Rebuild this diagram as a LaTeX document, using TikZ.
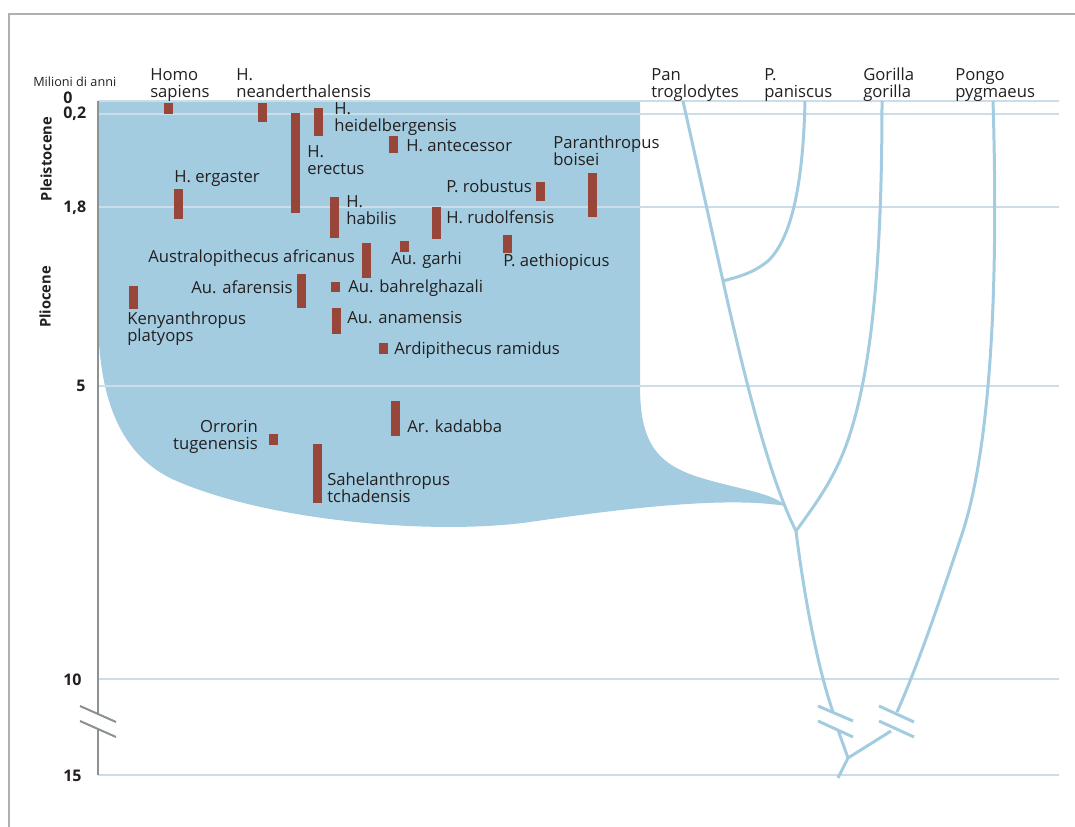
\documentclass[tikz,border=0pt]{standalone}
\usepackage{fontspec}
\setmainfont{Open Sans}
\definecolor{blu}{HTML}{A3CCE0}
\definecolor{brk}{HTML}{98463A}
\definecolor{grd}{HTML}{CADDE8}
\definecolor{frm}{HTML}{B0B0B0}
\definecolor{axc}{HTML}{8C9191}
\definecolor{txt}{HTML}{231F20}
\newcommand\twol[2]{\vtop{\halign{##\hfil\cr#1\cr#2\cr}}}
\newcommand\twor[2]{\vtop{\halign{\hfil##\cr#1\cr#2\cr}}}
\begin{document}
\begin{tikzpicture}[x=0.75pt,y=-0.75pt,
 lab/.style={inner sep=0pt, text=txt, font=\fontsize{12.5}{12.75}\selectfont, anchor=base west},
 labr/.style={lab, anchor=base east},
 num/.style={inner sep=0pt, text=txt, font=\fontsize{12}{13}\selectfont\bfseries, anchor=base west},
 era/.style={inner sep=0pt, text=txt, font=\fontsize{11}{13}\selectfont\bfseries, rotate=90},
 tree/.style={draw=blu, line width=2.25pt},
 gridl/.style={draw=grd, line width=1.5pt},
 sbar/.style={fill=brk},
 axisl/.style={draw=axc, line width=1.5pt},
]
\useasboundingbox (0,0) rectangle (1075,827);
% frame
\draw[frm, line width=1.5pt] (9,827) -- (9,14) -- (1075,14);
% blue hominin region
\fill[blu] (98,101) -- (640,101) -- (640,386)
  .. controls (640,440) and (655,462) .. (695,476)
  .. controls (735,489) and (772,492) .. (786,506)
  .. controls (730,497) and (640,506) .. (530,522)
  .. controls (430,536) and (260,520) .. (170,478)
  .. controls (115,450) and (100,390) .. (98,325) -- cycle;
% grid lines
\foreach \yy in {101,114,207,386,679,775} \draw[gridl] (98,\yy) -- (1059,\yy);
% axis
\draw[axisl] (98,101) -- (98,714);
\draw[axisl] (98,729) -- (98,775);
\draw[axisl] (80,706) -- (116,722);
\draw[axisl] (80,721) -- (116,737);
% axis labels
\node[inner sep=0pt, text=txt, font=\fontsize{9.5}{10}\selectfont, anchor=base west] (mda) at (33,87) {Milioni di anni};
\node[num] (n0) at (63,104) {0};
\node[num] (n02) at (63,119) {0,2};
\node[num] (n18) at (63,213) {1,8};
\node[num] (n5) at (76,392) {5};
\node[num] (n10) at (63,685) {10};
\node[num] (n15) at (63,781) {15};
\node[era] (plei) at (46,159) {Pleistocene};
\node[era] (plio) at (45,297) {Pliocene};
% top labels
\node[lab] (hs) at (150,81) {\twol{Homo}{sapiens}};
\node[lab] (hn) at (236,81) {\twol{H.}{neanderthalensis}};
\node[lab] (pt) at (651,81) {\twol{Pan}{troglodytes}};
\node[lab] (pp) at (764,81) {\twol{P.}{paniscus}};
\node[lab] (gg) at (863,81) {\twol{Gorilla}{gorilla}};
\node[lab] (pg) at (955,81) {\twol{Pongo}{pygmaeus}};
% species bars
\fill[sbar] (164,103) rectangle (173,114);
\fill[sbar] (258,103) rectangle (267,122);
\fill[sbar] (291,113) rectangle (300,213);
\fill[sbar] (314,108) rectangle (323,136);
\fill[sbar] (389,136) rectangle (398,153);
\fill[sbar] (174,189) rectangle (183,219);
\fill[sbar] (330,197) rectangle (339,238);
\fill[sbar] (432,207) rectangle (441,239);
\fill[sbar] (536,182) rectangle (545,201);
\fill[sbar] (588,173) rectangle (597,217);
\fill[sbar] (503,235) rectangle (512,253);
\fill[sbar] (400,241) rectangle (409,252);
\fill[sbar] (362,243) rectangle (371,278);
\fill[sbar] (297,274) rectangle (306,308);
\fill[sbar] (331,282) rectangle (340,292);
\fill[sbar] (332,308) rectangle (341,334);
\fill[sbar] (379,343) rectangle (388,354);
\fill[sbar] (129,286) rectangle (138,309);
\fill[sbar] (391,401) rectangle (400,436);
\fill[sbar] (269,434) rectangle (278,445);
\fill[sbar] (313,444) rectangle (322,503);
% species labels
\node[lab] (erg) at (174,183) {H. ergaster};
\node[lab] (ere) at (307,158) {\twol{H.}{erectus}};
\node[lab] (hei) at (334,115) {\twol{H.}{heidelbergensis}};
\node[lab] (ant) at (406,152) {H. antecessor};
\node[lab] (hab) at (346,208) {\twol{H.}{habilis}};
\node[lab] (rud) at (446,224) {H. rudolfensis};
\node[lab] (rob) at (446,193) {P. robustus};
\node[lab] (boi) at (553,149) {\twol{Paranthropus}{boisei}};
\node[lab] (aet) at (503,267) {P. aethiopicus};
\node[lab] (gar) at (391,265) {Au. garhi};
\node[lab] (afr) at (148,263) {Australopithecus africanus};
\node[lab] (afa) at (191,294) {Au. afarensis};
\node[lab] (bah) at (348,293) {Au. bahrelghazali};
\node[lab] (ana) at (347,324) {Au. anamensis};
\node[lab] (ram) at (394,354) {Ardipithecus ramidus};
\node[lab] (ken) at (127,325) {\twol{Kenyanthropus}{platyops}};
\node[labr] (orr) at (258,432) {\twor{Orrorin}{tugenensis}};
\node[lab] (kad) at (407,432) {Ar. kadabba};
\node[lab] (sah) at (327,485) {\twol{Sahelanthropus}{tchadensis}};
% tree coordinates
\coordinate (ptTop) at (683,101);
\coordinate (ppTop) at (805,101);
\coordinate (ggTop) at (882,101);
\coordinate (pgTop) at (993,101);
\coordinate (jPan) at (723,281);
\coordinate (jHPG) at (796,531);
\coordinate (brA1) at (833,712);
\coordinate (brA2) at (838,730);
\coordinate (brB1) at (897,712);
\coordinate (brB2) at (891,731);
\coordinate (jRoot) at (848,758);
\coordinate (root) at (838,778);
% tree
\draw[tree] (ptTop) -- (jPan) .. controls (745,380) and (770,480) .. (jHPG);
\draw[tree] (ppTop) .. controls (803,190) and (790,240) .. (768,261) .. controls (752,274) and (737,277) .. (jPan);
\draw[tree] (ggTop) .. controls (882,260) and (872,370) .. (848,440) .. controls (835,478) and (815,505) .. (jHPG);
\draw[tree] (jHPG) .. controls (802,580) and (815,660) .. (brA1);
\draw[tree] (brA2) -- (jRoot) -- (root);
\draw[tree] (pgTop) .. controls (1000,330) and (985,470) .. (960,540) .. controls (940,600) and (918,665) .. (brB1);
\draw[tree] (brB2) -- (jRoot);
% break marks on tree
\draw[tree] (818,706) -- (853,721);
\draw[tree] (818,721) -- (853,737);
\draw[tree] (879,706) -- (914,722);
\draw[tree] (879,721) -- (914,737);
\end{tikzpicture}
\end{document}
